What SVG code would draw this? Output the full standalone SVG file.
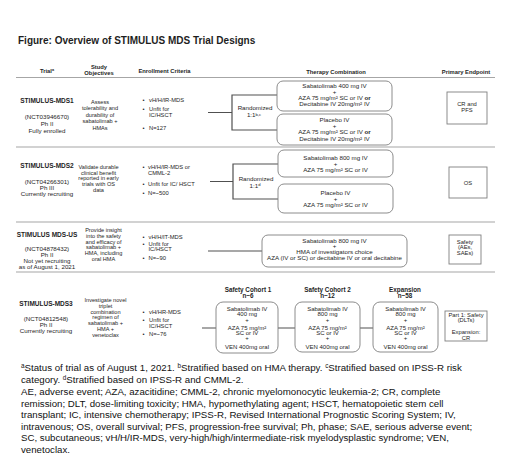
<svg xmlns="http://www.w3.org/2000/svg" width="520" height="468" viewBox="0 0 520 468">
<style>
text { font-family: "Liberation Sans", Arial, sans-serif; fill: #1e1e1e; }
.c { text-anchor: middle; }
.b { font-weight: bold; }
.title { font-size: 10px; font-weight: bold; }
.hd { font-size: 5.8px; font-weight: bold; }
.nm { font-size: 6.5px; font-weight: bold; }
.tx { font-size: 6.2px; }
.ob { font-size: 5.6px; }
.en { font-size: 5.8px; }
.th { font-size: 6.2px; }
.ch { font-size: 6.3px; font-weight: bold; }
.cb { font-size: 6px; }
.ep { font-size: 5.8px; }
.fn { font-size: 9.7px; fill: #111; }
.sep { stroke: #a6a6a6; stroke-width: 1.2; fill: none; }
.box { fill: #fff; stroke: #7f7f7f; stroke-width: 0.9; }
.epb { fill: #fff; stroke: #7f7f7f; stroke-width: 0.9; }
.ln { stroke: #505050; stroke-width: 1.2; fill: none; }
</style>

<text class="title" x="18" y="44">Figure: Overview of STIMULUS MDS Trial Designs</text>

<g id="header">
  <text class="hd c" x="47" y="73">Trial<tspan font-size="3.8" dy="-1.8">a</tspan></text>
  <text class="hd c" x="99" y="68.5">Study</text>
  <text class="hd c" x="99" y="75.3">Objectives</text>
  <text class="hd c" x="164.5" y="73">Enrollment Criteria</text>
  <text class="hd c" x="336" y="73.5">Therapy Combination</text>
  <text class="hd c" x="466" y="73.5">Primary Endpoint</text>
</g>

<g id="separators">
  <line class="sep" x1="16" y1="77.5" x2="495" y2="77.5"/>
  <line class="sep" x1="16" y1="147" x2="495" y2="147"/>
  <line class="sep" x1="16" y1="222" x2="495" y2="222"/>
  <line class="sep" x1="16" y1="272" x2="495" y2="272"/>
</g>

<g id="connectors">
  <path class="ln" d="M208 112.5 H232 M277 95 H232 V130 H277"/>
  <path class="ln" d="M210 181.5 H233 M278 164 H233 V199 H278"/>
  <path class="ln" d="M208 251 H262"/>
  <path class="ln" d="M202 328 H216 M278 328 H295 M360 328 H373"/>
</g>

<!-- MDS1 -->
<g id="mds1-trial">
  <text class="nm c" x="47" y="103.3">STIMULUS-MDS1</text>
  <text class="tx c" x="47" y="119.3">(NCT03946670)</text>
  <text class="tx c" x="47" y="125.8">Ph II</text>
  <text class="tx c" x="47" y="132.8">Fully enrolled</text>
</g>
<g id="mds1-objectives">
  <text class="ob c" x="100" y="103.9">Assess</text>
  <text class="ob c" x="100" y="110.4">tolerability and</text>
  <text class="ob c" x="100" y="116.9">durability of</text>
  <text class="ob c" x="100" y="123.4">sabatolimab +</text>
  <text class="ob c" x="100" y="129.9">HMAs</text>
</g>
<g id="mds1-enrollment">
  <text class="en" x="142.5" y="102">•</text><text class="en" x="149" y="102">vH/H/IR-MDS</text>
  <text class="en" x="142.5" y="111">•</text><text class="en" x="149" y="111">Unfit for</text>
  <text class="en" x="149" y="117">IC/HSCT</text>
  <text class="en" x="142.5" y="129.5">•</text><text class="en" x="149" y="129.5">N=127</text>
</g>
<g id="mds1-randomized">
  <text class="tx c" x="255" y="109.8">Randomized</text>
  <text class="tx c" x="254" y="117.3">1:1<tspan font-size="4.2" dy="-1.8">b,c</tspan></text>
</g>
<g id="mds1-arm1">
  <rect class="box" x="277" y="81" width="115" height="30" rx="6"/>
  <text class="th c" x="334.5" y="88">Sabatolimab 400 mg IV</text>
  <text class="th c" x="334.5" y="93.7">+</text>
  <text class="th c" x="334.5" y="100">AZA 75 mg/m² SC or IV <tspan class="b">or</tspan></text>
  <text class="th c" x="334.5" y="106.2">Decitabine IV 20mg/m² IV</text>
</g>
<g id="mds1-arm2">
  <rect class="box" x="277" y="114" width="115" height="31" rx="6"/>
  <text class="th c" x="334.5" y="121.5">Placebo IV</text>
  <text class="th c" x="334.5" y="127.5">+</text>
  <text class="th c" x="334.5" y="134.2">AZA 75 mg/m² SC or IV <tspan class="b">or</tspan></text>
  <text class="th c" x="334.5" y="141.2">Decitabine IV 20mg/m² IV</text>
</g>
<g id="mds1-endpoint">
  <rect class="epb" x="447" y="92" width="40" height="32"/>
  <text class="ep c" x="467" y="105.5">CR and</text>
  <text class="ep c" x="467" y="112">PFS</text>
</g>

<!-- MDS2 -->
<g id="mds2-trial">
  <text class="nm c" x="47" y="168.3">STIMULUS-MDS2</text>
  <text class="tx c" x="47" y="184">(NCT04266301)</text>
  <text class="tx c" x="47" y="190.1">Ph III</text>
  <text class="tx c" x="47" y="196.2">Currently recruiting</text>
</g>
<g id="mds2-objectives">
  <text class="ob c" x="98.5" y="168.6">Validate durable</text>
  <text class="ob c" x="98.5" y="174.5">clinical benefit</text>
  <text class="ob c" x="98.5" y="180.4">reported in early</text>
  <text class="ob c" x="98.5" y="186.2">trials with OS</text>
  <text class="ob c" x="98.5" y="192.1">data</text>
</g>
<g id="mds2-enrollment">
  <text class="en" x="142.5" y="168.7">•</text><text class="en" x="148" y="168.7">vH/H/IR-MDS  or</text>
  <text class="en" x="148" y="174.7">CMML-2</text>
  <text class="en" x="142.5" y="186">•</text><text class="en" x="148" y="186">Unfit for IC/ HSCT</text>
  <text class="en" x="142.5" y="195.3">•</text><text class="en" x="148" y="195.3">N=~500</text>
</g>
<g id="mds2-randomized">
  <text class="tx c" x="256" y="181.1">Randomized</text>
  <text class="tx c" x="255" y="187.8">1:1<tspan font-size="4.2" dy="-1.8">d</tspan></text>
</g>
<g id="mds2-arm1">
  <rect class="box" x="278" y="150" width="115" height="27" rx="6"/>
  <text class="th c" x="335.5" y="159.7">Sabatolimab 800 mg IV</text>
  <text class="th c" x="335.5" y="165.7">+</text>
  <text class="th c" x="335.5" y="171.7">AZA 75 mg/m² SC or IV</text>
</g>
<g id="mds2-arm2">
  <rect class="box" x="278" y="184" width="115" height="29" rx="6"/>
  <text class="th c" x="335.5" y="194.7">Placebo IV</text>
  <text class="th c" x="335.5" y="200.7">+</text>
  <text class="th c" x="335.5" y="206.7">AZA 75 mg/m² SC or IV</text>
</g>
<g id="mds2-endpoint">
  <rect class="epb" x="449" y="167" width="38" height="31"/>
  <text class="ep c" x="468" y="184.5">OS</text>
</g>

<!-- MDS-US -->
<g id="mdsus-trial">
  <text class="nm c" x="47" y="236.6">STIMULUS MDS-US</text>
  <text class="tx c" x="47" y="251.2">(NCT04878432)</text>
  <text class="tx c" x="47" y="257.1">Ph II</text>
  <text class="tx c" x="47" y="263">Not yet recruiting</text>
  <text class="tx c" x="47" y="269">as of August 1, 2021</text>
</g>
<g id="mdsus-objectives">
  <text class="ob c" x="103.5" y="231.9">Provide insight</text>
  <text class="ob c" x="103.5" y="237.7">into the safety</text>
  <text class="ob c" x="103.5" y="243.5">and efficacy of</text>
  <text class="ob c" x="103.5" y="249.3">sabatolimab +</text>
  <text class="ob c" x="103.5" y="255.1">HMA, including</text>
  <text class="ob c" x="103.5" y="260.9">oral HMA</text>
</g>
<g id="mdsus-enrollment">
  <text class="en" x="142.5" y="238.7">•</text><text class="en" x="148.5" y="238.7">vH/H/IT-MDS</text>
  <text class="en" x="142.5" y="245.5">•</text><text class="en" x="148.5" y="245.5">Unfit for</text>
  <text class="en" x="148.5" y="251">IC/HSCT</text>
  <text class="en" x="142.5" y="260.3">•</text><text class="en" x="148.5" y="260.3">N=~90</text>
</g>
<g id="mdsus-arm">
  <rect class="box" x="262" y="235" width="145" height="32" rx="6"/>
  <text class="th c" x="334.5" y="242.7">Sabatolimab 800 mg IV</text>
  <text class="th c" x="334.5" y="248.2">+</text>
  <text class="th c" x="334.5" y="254">HMA  of investigators choice</text>
  <text class="th c" x="334.5" y="260">AZA (IV or SC) or decitabine IV or oral decitabine</text>
</g>
<g id="mdsus-endpoint">
  <rect class="epb" x="449" y="235" width="32" height="29"/>
  <text class="ep c" x="465" y="243.5">Safety</text>
  <text class="ep c" x="465" y="249">(AEs,</text>
  <text class="ep c" x="465" y="254.5">SAEs)</text>
</g>

<!-- MDS3 -->
<g id="mds3-trial">
  <text class="nm c" x="46" y="306.3">STIMULUS-MDS3</text>
  <text class="tx c" x="46" y="320.6">(NCT04812548)</text>
  <text class="tx c" x="46" y="326.6">Ph II</text>
  <text class="tx c" x="46" y="332.5">Currently recruiting</text>
</g>
<g id="mds3-objectives">
  <text class="ob c" x="105.5" y="301.9">Investigate novel</text>
  <text class="ob c" x="105.5" y="307.7">triplet</text>
  <text class="ob c" x="105.5" y="313.5">combination</text>
  <text class="ob c" x="105.5" y="319.3">regimen of</text>
  <text class="ob c" x="105.5" y="325.1">sabatolimab +</text>
  <text class="ob c" x="105.5" y="330.9">HMA  +</text>
  <text class="ob c" x="105.5" y="336.7">venetoclax</text>
</g>
<g id="mds3-enrollment">
  <text class="en" x="142.5" y="314.3">•</text><text class="en" x="149" y="314.3">vH/HR-MDS</text>
  <text class="en" x="142.5" y="322">•</text><text class="en" x="149" y="322">Unfit for</text>
  <text class="en" x="149" y="327.7">IC/HSCT</text>
  <text class="en" x="142.5" y="336.3">•</text><text class="en" x="149" y="336.3">N=~76</text>
</g>
<g id="mds3-cohort1">
  <text class="ch c" x="248" y="292.2">Safety Cohort 1</text>
  <text class="ch c" x="248" y="298.2">n~6</text>
  <rect class="box" x="216" y="302" width="62" height="51" rx="7"/>
  <text class="cb c" x="247" y="310.6">Sabatolimab IV</text>
  <text class="cb c" x="247" y="316.1">400 mg</text>
  <text class="cb c" x="247" y="321.6">+</text>
  <text class="cb c" x="247" y="329.6">AZA 75 mg/m²</text>
  <text class="cb c" x="247" y="335.1">SC or IV</text>
  <text class="cb c" x="247" y="340.4">+</text>
  <text class="cb c" x="247" y="348.6">VEN 400mg oral</text>
</g>
<g id="mds3-cohort2">
  <text class="ch c" x="327.5" y="292.2">Safety Cohort 2</text>
  <text class="ch c" x="327.5" y="298.2">n~12</text>
  <rect class="box" x="295" y="302" width="65" height="50" rx="7"/>
  <text class="cb c" x="327.5" y="310.6">Sabatolimab IV</text>
  <text class="cb c" x="327.5" y="316.1">800 mg</text>
  <text class="cb c" x="327.5" y="321.6">+</text>
  <text class="cb c" x="327.5" y="329.6">AZA 75 mg/m²</text>
  <text class="cb c" x="327.5" y="335.1">SC or IV</text>
  <text class="cb c" x="327.5" y="340.4">+</text>
  <text class="cb c" x="327.5" y="348.6">VEN 400mg oral</text>
</g>
<g id="mds3-expansion">
  <text class="ch c" x="405" y="292.2">Expansion</text>
  <text class="ch c" x="405" y="298.2">n~58</text>
  <rect class="box" x="373" y="302" width="65" height="50" rx="7"/>
  <text class="cb c" x="405.5" y="310.6">Sabatolimab IV</text>
  <text class="cb c" x="405.5" y="316.1">800 mg</text>
  <text class="cb c" x="405.5" y="321.6">+</text>
  <text class="cb c" x="405.5" y="329.6">AZA 75 mg/m²</text>
  <text class="cb c" x="405.5" y="335.1">SC or IV</text>
  <text class="cb c" x="405.5" y="340.4">+</text>
  <text class="cb c" x="405.5" y="348.6">VEN 400mg oral</text>
</g>
<g id="mds3-endpoint">
  <rect class="epb" x="445" y="311" width="42" height="30"/>
  <text class="ep c" x="466" y="316.5">Part 1: Safety</text>
  <text class="ep c" x="466" y="322.3">(DLTs)</text>
  <text class="ep c" x="466" y="333.5">Expansion:</text>
  <text class="ep c" x="466" y="339.5">CR</text>
</g>

<g id="footnotes">
  <text class="fn" x="21" y="371.4"><tspan font-size="6.3" dy="-3">a</tspan><tspan dy="3">Status of trial as of August 1, 2021. </tspan><tspan font-size="6.3" dy="-3">b</tspan><tspan dy="3">Stratified based on HMA therapy. </tspan><tspan font-size="6.3" dy="-3">c</tspan><tspan dy="3">Stratified based on IPSS-R risk</tspan></text>
  <text class="fn" x="21" y="383">category. <tspan font-size="6.3" dy="-3">d</tspan><tspan dy="3">Stratified based on IPSS-R and CMML-2.</tspan></text>
  <text class="fn" x="21" y="394.9">AE, adverse event; AZA, azacitidine; CMML-2, chronic myelomonocytic leukemia-2; CR, complete</text>
  <text class="fn" x="21" y="406.6">remission; DLT, dose-limiting toxicity; HMA, hypomethylating agent; HSCT, hematopoietic stem cell</text>
  <text class="fn" x="21" y="418.2">transplant; IC, intensive chemotherapy; IPSS-R, Revised International Prognostic Scoring System; IV,</text>
  <text class="fn" x="21" y="429.8">intravenous; OS, overall survival; PFS, progression-free survival; Ph, phase; SAE, serious adverse event;</text>
  <text class="fn" x="21" y="441.4">SC, subcutaneous; vH/H/IR-MDS, very-high/high/intermediate-risk myelodysplastic syndrome; VEN,</text>
  <text class="fn" x="21" y="452.9">venetoclax.</text>
</g>
</svg>
